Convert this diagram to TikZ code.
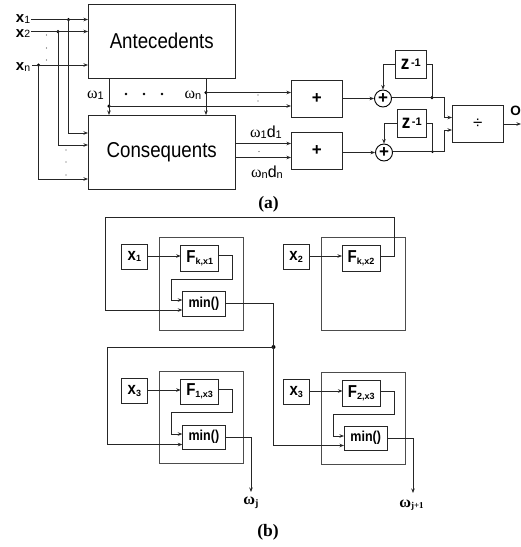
\documentclass[tikz,border=0pt]{standalone}
\usepackage{fontspec}
\setmainfont{Liberation Sans}
\newfontfamily\serifface{Liberation Serif}
\usetikzlibrary{arrows.meta}
\newcommand{\blk}[7][]{%
  \pgfmathsetmacro{\bw}{#5-#3}\pgfmathsetmacro{\bh}{#6-#4}%
  \pgfmathsetmacro{\bcx}{(#3+#5)/2}\pgfmathsetmacro{\bcy}{(#4+#6)/2}%
  \node[blockbox,minimum width=\bw pt,minimum height=\bh pt,#1] (#2) at (\bcx,\bcy) {#7};}
\newcommand{\fs}[2]{\fontsize{#1}{#1}\selectfont #2}
\newcommand{\vst}[1]{\scalebox{1}[1.15]{#1}}
\newcommand{\xs}[2]{{\fs{15}{\bfseries #1}}\raisebox{-.5pt}{\fs{10.5}{#2}}}
\newcommand{\bsub}[2]{\vst{\fs{15}{\bfseries #1}}\raisebox{-1.5pt}{\fs{9}{\bfseries #2}}}
\newcommand{\om}[1]{{\fs{16}{\serifface ω}}\raisebox{-1pt}{\fs{11}{#1}}}
\tikzset{
  x=1pt,y=-1pt,
  blockbox/.style={draw=black!85,line width=.9pt,inner sep=0pt,outer sep=0pt,align=center},
  frame/.style={blockbox,draw=black!70},
  conn/.style={draw=black!85,line width=.8pt},
  arr/.style={conn,-{Stealth[length=4.5pt,width=3.5pt]}},
  dotj/.style={circle,fill=black,inner sep=0pt,minimum size=3.5pt},
  speck/.style={circle,fill=black!70,inner sep=0pt,minimum size=1.2pt},
  lab/.style={inner sep=0pt,outer sep=0pt},
  captxt/.style={lab,font=\fontsize{17.5}{17.5}\selectfont\bfseries\serifface},
  sumc/.style={circle,draw=black,line width=.9pt,inner sep=0pt,minimum size=17pt,font=\fontsize{17}{17}\selectfont\bfseries}
}
\begin{document}
\begin{tikzpicture}
\useasboundingbox (0,0) rectangle (521,547);
\fill[white] (0,0) rectangle (521,547);
% ---------- part (a)
\blk{ant}{88}{4}{235.5}{78}{\raisebox{-2pt}{\vst{\fs{18.7}{Antecedents}}}}
\blk{con}{88}{115}{235.5}{189}{\raisebox{-3pt}{\vst{\fs{18.7}{Consequents}}}}
\blk{sa}{291}{80.5}{342.5}{117}{\fs{17}{\bfseries +}}
\blk{sb}{291}{132}{342.5}{169.5}{\fs{17}{\bfseries +}}
\blk{za}{395.7}{50}{426}{78}{\vst{\fs{17}{\bfseries z}}\,\raisebox{3pt}{\fs{11}{\bfseries -1}}}
\blk{zb}{397}{109}{426.5}{137}{\vst{\fs{17}{\bfseries z}}\,\raisebox{3pt}{\fs{11}{\bfseries -1}}}
\blk{dv}{452}{105}{503.5}{142}{\fs{17}{÷}}
\node[sumc] (ca) at (383,98.5) {+};
\node[sumc] (cb) at (384,152.5) {+};
\node[lab] (lx1) at (23,19) {\xs{x}{1}};
\node[lab] (lx2) at (23,33.5) {\xs{x}{2}};
\node[lab] (lxn) at (23,67) {\xs{x}{n}};
\coordinate (ix1) at (31,19.5);
\coordinate (ix2) at (31,31.5);
\coordinate (ixn) at (32,65);
\node[dotj] (d1) at (68.5,19.5) {};
\node[dotj] (d2) at (58,31.5) {};
\node[dotj] (dn) at (38.5,65) {};
\draw[arr] (ix1) -- (ant.west |- ix1);
\draw[arr] (ix2) -- (ant.west |- ix2);
\draw[arr] (ixn) -- (ant.west |- ixn);
\draw[arr] (d1.center) |- (con.west |- 0,133);
\draw[arr] (d2.center) |- (con.west |- 0,145);
\draw[arr] (dn.center) |- (con.west |- 0,179);
\foreach \i/\px/\py in {a/46.5/35,b/46.5/48,c/46.5/60,d/66/150,e/66/162,f/66/175}
  \node[speck] (t\i) at (\px,\py) {};
\node[dotj] (w1) at (109,106) {};
\node[dotj] (wn) at (206,92.5) {};
\draw[arr] (ant.south -| w1) -- (con.north -| w1);
\draw[arr] (ant.south -| wn) -- (con.north -| wn);
\draw[arr] (w1.center) -- (sa.west |- w1);
\draw[arr] (wn.center) -- (sa.west |- wn);
\draw[arr] (con.east |- 0,143.5) -- (sb.west |- 0,143.5);
\draw[arr] (con.east |- 0,157.5) -- (sb.west |- 0,157.5);
\node[lab] (lw1) at (95.5,95) {\om{1}};
\node[lab] (lwn) at (193,95) {\om{n}};
\foreach \i/\px in {a/126,b/144,c/162}
  \node[circle,fill=black,inner sep=0pt,minimum size=2.6pt] (m\i) at (\px,94) {};
\node[speck] (tg) at (258,95) {};
\node[speck] (th) at (258,101) {};
\node[speck] (ti) at (259,151.5) {};
\node[lab] (lwd1) at (266,132.5) {\om{1}\fs{16}{d}\raisebox{-1pt}{\fs{11}{1}}};
\node[lab] (lwdn) at (267,172) {\om{n}\fs{16}{d}\raisebox{-1pt}{\fs{11}{n}}};
\draw[arr] (sa.east |- ca) -- (ca.west);
\draw[arr] (sb.east |- cb) -- (cb.west);
\draw[arr] (za.west) -| (ca.north);
\draw[arr] (zb.west) -| (cb.north);
\node[dotj] (ja) at (432,97.5) {};
\node[dotj,minimum size=3pt] (jb) at (432.5,151.5) {};
\draw[conn] (za.east) -| (ja.center);
\draw[conn] (zb.east) -| (jb.center);
\draw[arr] (ca.east |- ja) -- (444.5,97.5) |- (dv.west |- 0,117.5);
\draw[arr] (cb.east |- jb) -- (444.5,151.5) |- (dv.west |- 0,130);
\coordinate (oend) at (521,124);
\draw[arr] (dv.east |- oend) -- (oend);
\node[lab,font=\fontsize{13.5}{13.5}\selectfont\bfseries] (lo) at (515.5,111) {O};
\node[captxt] (capa) at (268.5,204) {(a)};
% ---------- part (b)
\blk[frame]{fa}{159.3}{237}{243.5}{330}{}
\blk[frame]{fb}{321}{237}{405}{330}{}
\blk[frame]{fc}{159.3}{371}{243.5}{463}{}
\blk[frame]{fd}{321}{372.5}{405.5}{464.5}{}
\blk{xa}{121.3}{244.3}{147.5}{269}{\bsub{x}{1}}
\blk{fka}{180.7}{245.5}{218.7}{271}{\bsub{F}{k,x1}}
\blk{mna}{182.3}{291.5}{225.5}{316}{\vst{\fs{12.5}{\bfseries min()}}}
\blk{xb}{283}{244.3}{309.3}{269.5}{\bsub{x}{2}}
\blk{fkb}{342}{245.5}{380}{271}{\bsub{F}{k,x2}}
\blk{xc}{121.3}{378}{147.5}{403.5}{\bsub{x}{3}}
\blk{fkc}{180.7}{379}{218.5}{404}{\bsub{F}{1,x3}}
\blk{mnc}{182.3}{425}{225.5}{449.5}{\vst{\fs{12.5}{\bfseries min()}}}
\blk{xd}{283}{379.5}{309.5}{404.5}{\bsub{x}{3}}
\blk{fkd}{342.5}{380.5}{380}{406}{\bsub{F}{2,x3}}
\blk{mnd}{344}{426}{387.5}{450.5}{\vst{\fs{12.5}{\bfseries min()}}}
\draw[arr] (xa.east |- 0,256) -- (fka.west |- 0,256);
\draw[arr] (xb.east |- 0,256) -- (fkb.west |- 0,256);
\draw[arr] (xc.east |- 0,390) -- (fkc.west |- 0,390);
\draw[arr] (xd.east |- 0,391) -- (fkd.west |- 0,391);
\draw[arr] (fka.east |- 0,255.5) -- (232.5,255.5) -- (232.5,279.5) -- (171.5,279.5) -- (171.5,300) -- (mna.west |- 0,300);
\draw[arr] (fkc.east |- 0,389.5) -- (232.5,389.5) -- (232.5,412.5) -- (171.5,412.5) -- (171.5,434) -- (mnc.west |- 0,434);
\draw[arr] (fkd.east |- 0,391) -- (394.5,391) -- (394.5,414) -- (333.5,414) -- (333.5,436) -- (mnd.west |- 0,436);
\draw[arr] (fkb.east |- 0,256) -- (394,256) -- (394,217.5) -- (105.5,217.5) -- (105.5,310) -- (mna.west |- 0,310);
\node[dotj,minimum size=4pt] (jn) at (273.5,347) {};
\draw[conn] (mna.east |- 0,303.5) -| (jn.center);
\draw[arr] (jn.center) -- (107,347) -- (107,444.5) -- (mnc.west |- 0,444.5);
\draw[arr] (jn.center) |- (mnd.west |- 0,445.5);
\node[lab] (lwj) at (251,503) {\fs{16}{\bfseries\serifface ω}\raisebox{-2pt}{\fs{10}{\bfseries j}}};
\node[lab] (lwk) at (411.5,505) {\fs{16}{\bfseries\serifface ω}\raisebox{-1pt}{\fs{9}{\bfseries j+1}}};
\draw[arr] (mnc.east |- 0,437) -| (251,492);
\draw[arr] (mnd.east |- 0,438) -| (413,493);
\node[captxt] (capb) at (268,532) {(b)};
\end{tikzpicture}
\end{document}
